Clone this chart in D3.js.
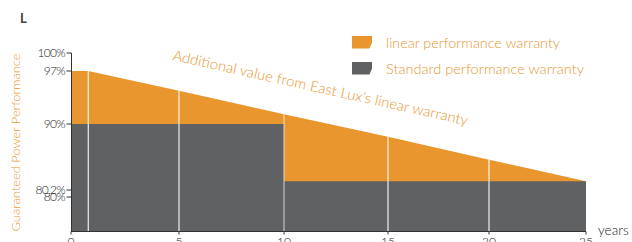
<!DOCTYPE html>
<html><head><meta charset="utf-8">
<script src="https://cdn.jsdelivr.net/npm/d3@7"></script>
<style>body{margin:0;background:#fff}svg{display:block}</style>
</head><body><svg id="c" width="632" height="242"></svg>
<script>
// ---- data ----
const years = [0, 0.8, 5, 10, 15, 20, 25];
const linearWarranty = [97, 97, 94.4, 91.3, 88.1, 84.7, 81.5];
const stdYears = [0, 10, 25];
const standardWarranty = [90, 81.5, 81.5];
const gridYears = [0.8, 5, 10, 15, 20];
const xTicks = [0, 5, 10, 15, 20, 25];
const yTickValues = [100, 97, 90, 80.2, 80];
const yTickLabels = ["100%", "97%", "90%", "80.2%", "80%"];
const legendLabels = ["linear performance warranty", "Standard performance warranty"];

const ORANGE = "#E9962F", GREY = "#606163", AXIS = "#333";
const FONT = "Lato, 'Open Sans', sans-serif";

const svg = d3.select("#c");
// non-uniform axes as in the original
const x = d3.scaleLinear().domain([0, 5, 10, 15, 20, 25]).range([71, 179, 284, 388, 489, 586]);
const y = d3.scaleLinear().domain([75, 80, 80.2, 90, 97, 100]).range([231, 197, 190, 124, 71, 53]);
const base = 75;

// orange area
const linPts = years.map((yr, i) => [yr, linearWarranty[i]]);
svg.append("path")
  .attr("d", d3.area().x(d => x(d[0])).y0(y(base)).y1(d => y(d[1]))(linPts))
  .attr("fill", ORANGE);

// grey step area
const stdPts = stdYears.map((yr, i) => [yr, standardWarranty[i]]);
svg.append("path")
  .attr("d", d3.area().curve(d3.curveStepAfter).x(d => x(d[0])).y0(y(base)).y1(d => y(d[1]))(stdPts))
  .attr("fill", GREY);

// white vertical lines
gridYears.forEach(g => {
  const v = linearWarranty[years.indexOf(g)];
  svg.append("line")
    .attr("x1", x(g)).attr("x2", x(g))
    .attr("y1", y(v)).attr("y2", y(base))
    .attr("stroke", "#fff")
    .attr("stroke-width", 1.2)
    .attr("opacity", g === 10 ? 0.6 : 0.9);
});

// y axis
const yAxis = svg.append("g");
yAxis.append("line").attr("x1", 71.5).attr("x2", 71.5).attr("y1", y(100)).attr("y2", y(base)).attr("stroke", AXIS);
yTickValues.forEach((v, i) => {
  yAxis.append("line").attr("x1", 66.5).attr("x2", 71.5).attr("y1", y(v)).attr("y2", y(v)).attr("stroke", AXIS);
  yAxis.append("text").attr("x", 65).attr("y", y(v) + 4)
    .attr("text-anchor", "end").attr("font-family", FONT).attr("font-size", 12).attr("font-weight", 300)
    .attr("letter-spacing", -0.7).attr("fill", "#222").text(yTickLabels[i]);
});

// x axis
const xAxis = svg.append("g");
xAxis.append("line").attr("x1", 71).attr("x2", x(25)).attr("y1", 231.5).attr("y2", 231.5).attr("stroke", AXIS);
xTicks.forEach(t => {
  xAxis.append("line").attr("x1", x(t)).attr("x2", x(t)).attr("y1", 231.5).attr("y2", 234.5).attr("stroke", AXIS);
  xAxis.append("text").attr("x", x(t)).attr("y", 246).attr("text-anchor", "middle")
    .attr("font-family", FONT).attr("font-size", 12).attr("font-weight", 300).attr("fill", "#222").text(t);
});
svg.append("text").attr("x", 598).attr("y", 235).attr("font-family", FONT).attr("font-size", 13.5)
  .attr("font-weight", 300).attr("fill", "#222").text("years");

// y title
svg.append("text").attr("transform", "translate(19.5,142.5) rotate(-90)")
  .attr("text-anchor", "middle").attr("font-family", FONT).attr("font-size", 11.5).attr("font-weight", 300)
  .attr("fill", ORANGE).attr("textLength", 178).attr("lengthAdjust", "spacingAndGlyphs")
  .text("Guaranteed Power Performance");

// title L
svg.append("text").attr("x", 20).attr("y", 23).attr("font-family", FONT).attr("font-weight", "bold")
  .attr("font-size", 13).attr("fill", "#444").text("L");

// annotation
svg.append("text").attr("transform", "translate(172,60) rotate(12.5)")
  .attr("font-family", FONT).attr("font-size", 14.5).attr("font-weight", 300).attr("fill", ORANGE)
  .attr("textLength", 302).attr("lengthAdjust", "spacingAndGlyphs")
  .text("Additional value from East Lux\u2019s linear warranty");

// legend
const legColors = [ORANGE, GREY];
const legY = [36, 62];
legendLabels.forEach((lab, i) => {
  const g = svg.append("g").attr("transform", `translate(352,${legY[i]})`);
  g.append("path").attr("d", "M0,0H20V6.5L17.5,12.5H0Z").attr("fill", legColors[i]);
  g.append("text").attr("x", 34).attr("y", 11.5).attr("font-family", FONT).attr("font-size", 13)
    .attr("font-weight", 300)
    .attr("fill", ORANGE).attr("textLength", i === 0 ? 174 : 198).attr("lengthAdjust", "spacingAndGlyphs")
    .text(lab);
});
</script></body></html>
